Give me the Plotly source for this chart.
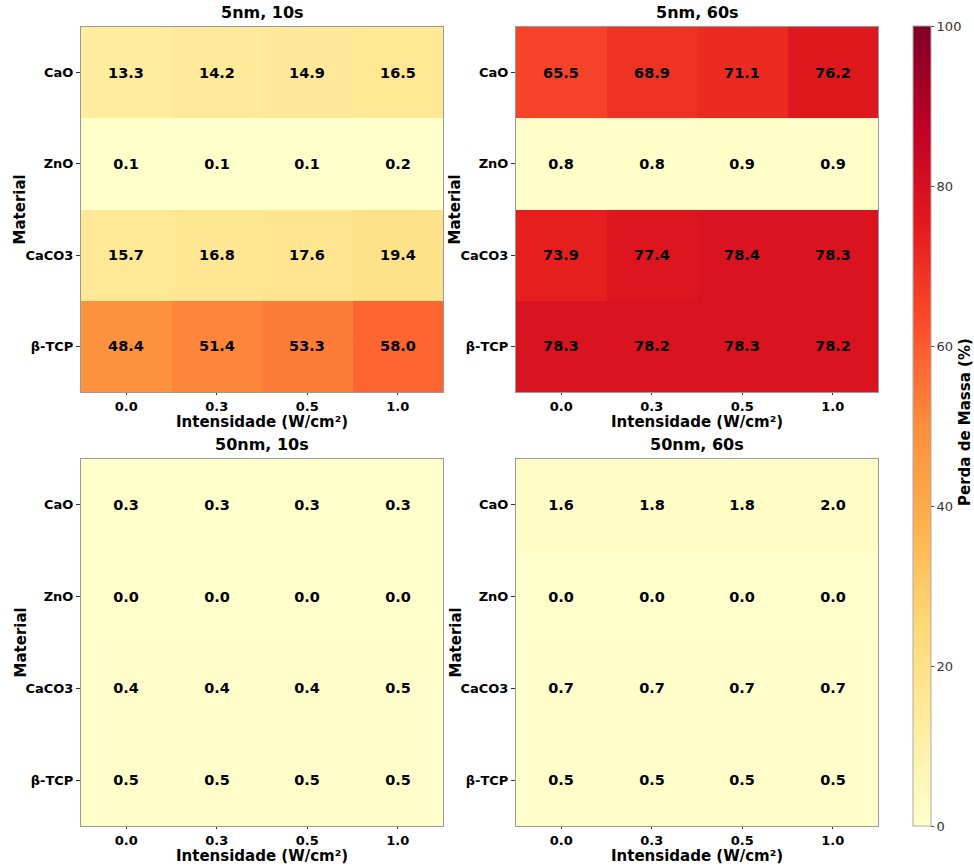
import plotly.graph_objects as go

# Categories
materials = ["CaO", "ZnO", "CaCO3", "β-TCP"]
intensities = ["0.0", "0.3", "0.5", "1.0"]

# Mass loss (%) per material row, one list per intensity column
loss_5nm_10s = [
    [13.3, 14.2, 14.9, 16.5],
    [0.1, 0.1, 0.1, 0.2],
    [15.7, 16.8, 17.6, 19.4],
    [48.4, 51.4, 53.3, 58.0],
]
loss_5nm_60s = [
    [65.5, 68.9, 71.1, 76.2],
    [0.8, 0.8, 0.9, 0.9],
    [73.9, 77.4, 78.4, 78.3],
    [78.3, 78.2, 78.3, 78.2],
]
loss_50nm_10s = [
    [0.3, 0.3, 0.3, 0.3],
    [0.0, 0.0, 0.0, 0.0],
    [0.4, 0.4, 0.4, 0.5],
    [0.5, 0.5, 0.5, 0.5],
]
loss_50nm_60s = [
    [1.6, 1.8, 1.8, 2.0],
    [0.0, 0.0, 0.0, 0.0],
    [0.7, 0.7, 0.7, 0.7],
    [0.5, 0.5, 0.5, 0.5],
]

panel_titles = ["5nm, 10s", "5nm, 60s", "50nm, 10s", "50nm, 60s"]
panel_data = [loss_5nm_10s, loss_5nm_60s, loss_50nm_10s, loss_50nm_60s]

W, H = 974, 867
FONT = "DejaVu Sans"

# Panel boxes in pixels: (left, right, top, bottom)
boxes = [
    (81, 443, 27, 392),
    (516, 878, 27, 392),
    (81, 443, 459, 826),
    (516, 878, 459, 826),
]

fig = go.Figure()
annotations = []

for i, (title, z, (l, r, t, b)) in enumerate(zip(panel_titles, panel_data, boxes)):
    n = i + 1
    xa = "x" if n == 1 else f"x{n}"
    ya = "y" if n == 1 else f"y{n}"
    fig.add_trace(go.Heatmap(
        z=z, x=intensities, y=materials,
        xaxis=xa, yaxis=ya,
        colorscale="YlOrRd", zmin=0, zmax=100,
        texttemplate="<b>%{z:.1f}</b>",
        textfont=dict(family=FONT, size=14.5, color="black"),
        showscale=(n == 1),
        colorbar=dict(
            x=913 / W, xanchor="left", xref="paper", xpad=0, ypad=0,
            y=1 - 26 / H, yanchor="top",
            len=800, lenmode="pixels",
            thickness=18, thicknessmode="pixels",
            outlinecolor="#aaaaaa", outlinewidth=1,
            tickvals=[0, 20, 40, 60, 80, 100],
            ticks="outside", ticklen=3, tickcolor="#444",
            tickfont=dict(family=FONT, size=13, color="#333"),
        ),
        hovertemplate="%{y} / %{x}: %{z:.1f}%<extra></extra>",
    ))
    xdom = [l / W, r / W]
    ydom = [1 - b / H, 1 - t / H]
    axkey_x = "xaxis" if n == 1 else f"xaxis{n}"
    axkey_y = "yaxis" if n == 1 else f"yaxis{n}"
    fig.layout[axkey_x] = dict(
        domain=xdom, anchor=ya, type="category",
        showline=True, mirror=True, linecolor="#999999", linewidth=1,
        ticks="outside", ticklen=2, tickcolor="#333",
        tickfont=dict(family=FONT, size=13, color="black", weight="bold"),
        showgrid=False, zeroline=False, automargin=False,
    )
    fig.layout[axkey_y] = dict(
        domain=ydom, anchor=xa, type="category", autorange="reversed",
        showline=True, mirror=True, linecolor="#999999", linewidth=1,
        ticks="outside", ticklen=4, tickcolor="#333",
        tickfont=dict(family=FONT, size=13, color="black", weight="bold"),
        showgrid=False, zeroline=False, automargin=False,
    )
    # Panel title
    annotations.append(dict(
        text=f"<b>{title}</b>", x=(l + r) / 2 / W, y=1 - (t - 3) / H,
        xref="paper", yref="paper", xanchor="center", yanchor="bottom",
        showarrow=False, font=dict(family=FONT, size=16, color="black"),
    ))
    # X axis title
    annotations.append(dict(
        text="<b>Intensidade (W/cm²)</b>", x=(l + r) / 2 / W, y=1 - (b + 30) / H,
        xref="paper", yref="paper", xanchor="center", yanchor="middle",
        showarrow=False, font=dict(family=FONT, size=15, color="black"),
    ))
    # Y axis title
    annotations.append(dict(
        text="<b>Material</b>", x=(l - 61) / W, y=1 - (t + b) / 2 / H,
        xref="paper", yref="paper", xanchor="center", yanchor="middle",
        textangle=-90,
        showarrow=False, font=dict(family=FONT, size=15, color="black"),
    ))

# Colour bar title, rotated along the bar's right side
annotations.append(dict(
    text="<b>Perda de Massa (%)</b>", x=965 / W, y=1 - 422 / H,
    xref="paper", yref="paper", xanchor="center", yanchor="middle",
    textangle=-90,
    showarrow=False, font=dict(family=FONT, size=15, color="black"),
))

fig.update_layout(
    width=W, height=H,
    margin=dict(l=0, r=0, t=0, b=0, autoexpand=False),
    paper_bgcolor="white", plot_bgcolor="white",
    annotations=annotations,
    showlegend=False,
)

fig.write_html("out.html")
